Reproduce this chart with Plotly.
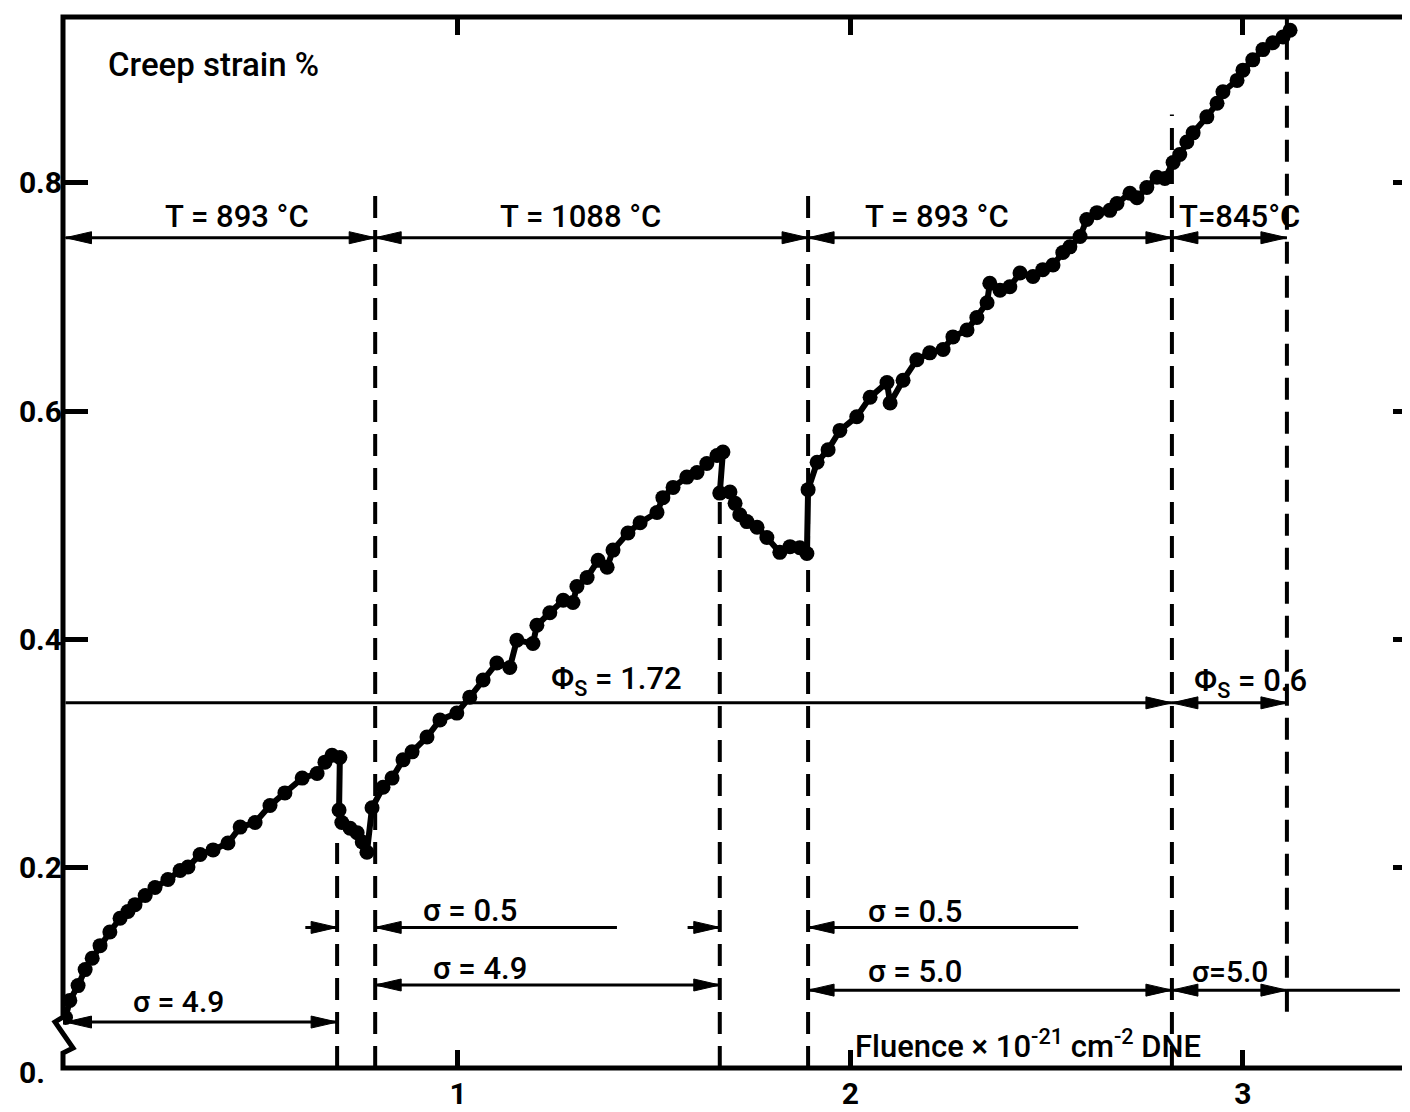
import plotly.graph_objects as go

# ---------------- data ----------------
# creep strain (%) versus fluence (x 10^21 cm^-2 DNE), in drawing order
FLUENCE = (
    [0.000, 0.011, 0.032, 0.050, 0.068, 0.088, 0.113, 0.139, 0.159, 0.177,
     0.203, 0.228, 0.261, 0.292, 0.312, 0.343, 0.376, 0.414, 0.445, 0.483,
     0.521, 0.559, 0.603, 0.641, 0.661, 0.679, 0.699]
    + [0.697, 0.704, 0.725, 0.743, 0.756, 0.768]
    + [0.781, 0.809, 0.832, 0.860, 0.883, 0.921, 0.954, 0.997, 1.030, 1.064,
       1.099, 1.132, 1.150, 1.191, 1.201, 1.234, 1.268, 1.293, 1.303, 1.329,
       1.357, 1.380, 1.395, 1.433, 1.464, 1.507, 1.522, 1.548, 1.583, 1.609,
       1.634, 1.660, 1.675]
    + [1.667, 1.693, 1.706, 1.718, 1.736, 1.762, 1.787, 1.820, 1.846, 1.871, 1.889]
    + [1.892, 1.915, 1.943, 1.973, 2.016, 2.050, 2.093, 2.101, 2.134, 2.169,
       2.202, 2.236, 2.261, 2.297, 2.322, 2.348, 2.355, 2.381, 2.406, 2.432,
       2.465, 2.490, 2.516, 2.541, 2.559, 2.585, 2.602, 2.628, 2.661, 2.679,
       2.712, 2.730, 2.755, 2.781, 2.801, 2.822, 2.839, 2.857, 2.873, 2.908,
       2.934, 2.949, 2.985, 3.000, 3.025, 3.051, 3.076, 3.102, 3.120]
)
STRAIN = (
    [0.068, 0.083, 0.096, 0.110, 0.120, 0.131, 0.143, 0.155, 0.161, 0.167,
     0.175, 0.182, 0.189, 0.197, 0.200, 0.211, 0.215, 0.221, 0.235, 0.239,
     0.254, 0.265, 0.278, 0.282, 0.292, 0.298, 0.296]
    + [0.250, 0.239, 0.234, 0.230, 0.222, 0.213]
    + [0.252, 0.270, 0.278, 0.294, 0.301, 0.314, 0.329, 0.335, 0.349, 0.364,
       0.379, 0.375, 0.399, 0.396, 0.412, 0.423, 0.434, 0.432, 0.446, 0.454,
       0.469, 0.463, 0.478, 0.493, 0.502, 0.511, 0.524, 0.533, 0.542, 0.546,
       0.554, 0.561, 0.564]
    + [0.528, 0.529, 0.519, 0.509, 0.503, 0.498, 0.489, 0.476, 0.481, 0.480, 0.475]
    + [0.531, 0.555, 0.566, 0.583, 0.595, 0.612, 0.625, 0.607, 0.627, 0.645,
       0.651, 0.654, 0.665, 0.671, 0.682, 0.695, 0.712, 0.706, 0.709, 0.721,
       0.718, 0.724, 0.728, 0.739, 0.744, 0.753, 0.768, 0.774, 0.776, 0.782,
       0.791, 0.787, 0.796, 0.805, 0.804, 0.818, 0.825, 0.836, 0.844, 0.858,
       0.870, 0.880, 0.890, 0.899, 0.908, 0.917, 0.923, 0.928, 0.934]
)
assert len(FLUENCE) == len(STRAIN)

X_TICKS = [1, 2, 3]
X_TICK_TEXT = ["1", "2", "3"]
Y_TICKS = [0.2, 0.4, 0.6, 0.8]
Y_TICK_TEXT = ["0.2", "0.4", "0.6", "0.8"]
X_RANGE = [-0.0064, 3.446]
Y_RANGE = [0.0237, 0.9456]

# dashed regime dividers (fluence) and their vertical extent (strain)
DIVIDER_X = [0.692, 0.789, 1.667, 1.892, 2.819, 3.112]
DIVIDER_LOW = [0.0237, 0.0237, 0.0237, 0.0237, 0.0237, 0.073]
DIVIDER_HIGH = [0.221, 0.798, 0.531, 0.789, 0.860, 0.9456]

# temperature regimes
TEMP_EDGES = [0.0, 0.789, 1.892, 2.819, 3.112]
TEMP_LABELS = ["T = 893 °C", "T = 1088 °C", "T = 893 °C", "T=845°C"]
TEMP_LEVEL = 0.752

# swelling-fluence regimes
PHI_EDGES = [0.0, 2.819, 3.112]
PHI_LABELS = ["Φ<sub>S</sub> = 1.72", "Φ<sub>S</sub> = 0.6"]
PHI_LEVEL = 0.344

# stress labels
SIGMA_LABELS = ["σ = 4.9", "σ = 0.5", "σ = 4.9", "σ = 0.5", "σ = 5.0", "σ=5.0"]

FONT = "Roboto"
TXT = dict(family=FONT, size=31, color="black", weight=500)

fig = go.Figure()
fig.add_trace(go.Scatter(
    x=FLUENCE, y=STRAIN, mode="lines+markers",
    line=dict(color="black", width=6),
    marker=dict(color="black", size=15),
    showlegend=False, hoverinfo="skip"))
# helpers so the top / right tick axes get drawn
fig.add_trace(go.Scatter(x=[None], y=[None], xaxis="x2", yaxis="y", showlegend=False))
fig.add_trace(go.Scatter(x=[None], y=[None], xaxis="x", yaxis="y2", showlegend=False))

# dashed dividers
for xd, y0, y1 in zip(DIVIDER_X, DIVIDER_LOW, DIVIDER_HIGH):
    fig.add_shape(type="line", xref="x", yref="y", x0=xd, x1=xd, y0=y0, y1=y1,
                  line=dict(color="black", width=4, dash="22px,12px"))

# frame with axis break on the left
fig.add_shape(type="path", xref="paper", yref="paper",
              path="M 1,1 L 0,1 L 0,0.0485 L -0.0059,0.0438 L 0.0074,0.019 L 0,0.0143 L 0,0 L 1,0",
              line=dict(color="black", width=5))

HEAD_RIGHT = "M 0,0 L -26,6 L -26,-6 Z"
HEAD_LEFT = "M 0,0 L 26,6 L 26,-6 Z"


def head(x, y, path):
    fig.add_shape(type="path", xref="x", yref="y", xsizemode="pixel", ysizemode="pixel",
                  xanchor=x, yanchor=y, path=path, fillcolor="black",
                  line=dict(color="black", width=1))


def dim(x0, x1, y, start, end):
    fig.add_shape(type="line", xref="x", yref="y", x0=x0, x1=x1, y0=y, y1=y,
                  line=dict(color="black", width=3))
    if start:
        head(x0, y, HEAD_LEFT)
    if end:
        head(x1, y, HEAD_RIGHT)


# temperature row
for a, b in zip(TEMP_EDGES[:-1], TEMP_EDGES[1:]):
    dim(a, b, TEMP_LEVEL, True, True)
# swelling row
dim(PHI_EDGES[0], PHI_EDGES[1], PHI_LEVEL, False, True)
dim(PHI_EDGES[1], PHI_EDGES[2], PHI_LEVEL, True, True)
# stress rows
dim(0.0, 0.692, 0.064, True, True)
dim(0.611, 0.692, 0.147, False, True)
dim(0.789, 1.405, 0.147, True, False)
dim(1.585, 1.667, 0.147, False, True)
dim(1.892, 2.580, 0.147, True, False)
dim(0.789, 1.667, 0.0965, True, True)
dim(1.892, 2.819, 0.092, True, True)
dim(2.819, 3.112, 0.092, True, True)
dim(3.112, 3.40, 0.092, False, False)

annotations = []


def label(text, x, y, size=31, xanchor="center"):
    f = dict(TXT)
    f["size"] = size
    annotations.append(dict(x=x, y=y, xref="x", yref="y", text=text, showarrow=False,
                            xanchor=xanchor, yanchor="middle", font=f))


for t, xc in zip(TEMP_LABELS, [0.437, 1.311, 2.220, 2.992]):
    label(t, xc, 0.771)
label(PHI_LABELS[0], 1.405, 0.364)
label(PHI_LABELS[1], 3.018, 0.362)
label(SIGMA_LABELS[0], 0.287, 0.082, size=30)
label(SIGMA_LABELS[1], 1.031, 0.162)
label(SIGMA_LABELS[2], 1.056, 0.111)
label(SIGMA_LABELS[3], 2.164, 0.161)
label(SIGMA_LABELS[4], 2.164, 0.108)
label(SIGMA_LABELS[5], 2.967, 0.108, size=30)
label("Fluence × 10<sup>-21</sup> cm<sup>-2</sup> DNE", 2.452, 0.044)
label("Creep strain %", 0.376, 0.904, size=33)

# "0." at the (broken) origin
annotations.append(dict(x=0, y=0, xref="paper", yref="paper", text="<b>0.</b>",
                        showarrow=False, xanchor="right", yanchor="middle",
                        xshift=-16, yshift=-4,
                        font=dict(family=FONT, size=30, color="black")))

tick_common = dict(showgrid=False, zeroline=False, showline=False,
                   ticks="inside", tickcolor="black", tickwidth=5)

# page body adds an 8px offset, so margins are set 8px smaller
fig.update_layout(
    width=1410, height=1112,
    margin=dict(l=55, r=0, t=9, b=52, autoexpand=False),
    paper_bgcolor="white", plot_bgcolor="white",
    showlegend=False,
    xaxis=dict(range=X_RANGE, tickvals=X_TICKS, ticktext=X_TICK_TEXT, ticklen=18,
               tickfont=dict(family=FONT, size=30, color="black", weight="bold"),
               ticklabelstandoff=5, **tick_common),
    xaxis2=dict(range=X_RANGE, overlaying="x", side="top", tickvals=X_TICKS,
                ticklen=18, showticklabels=False, **tick_common),
    yaxis=dict(range=Y_RANGE, tickvals=Y_TICKS, ticktext=Y_TICK_TEXT, ticklen=25,
               tickfont=dict(family=FONT, size=30, color="black", weight="bold"),
               **tick_common),
    yaxis2=dict(range=Y_RANGE, overlaying="y", side="right", tickvals=Y_TICKS,
                ticklen=25, showticklabels=False, **tick_common),
    annotations=annotations,
)

fig.write_html("out.html")
